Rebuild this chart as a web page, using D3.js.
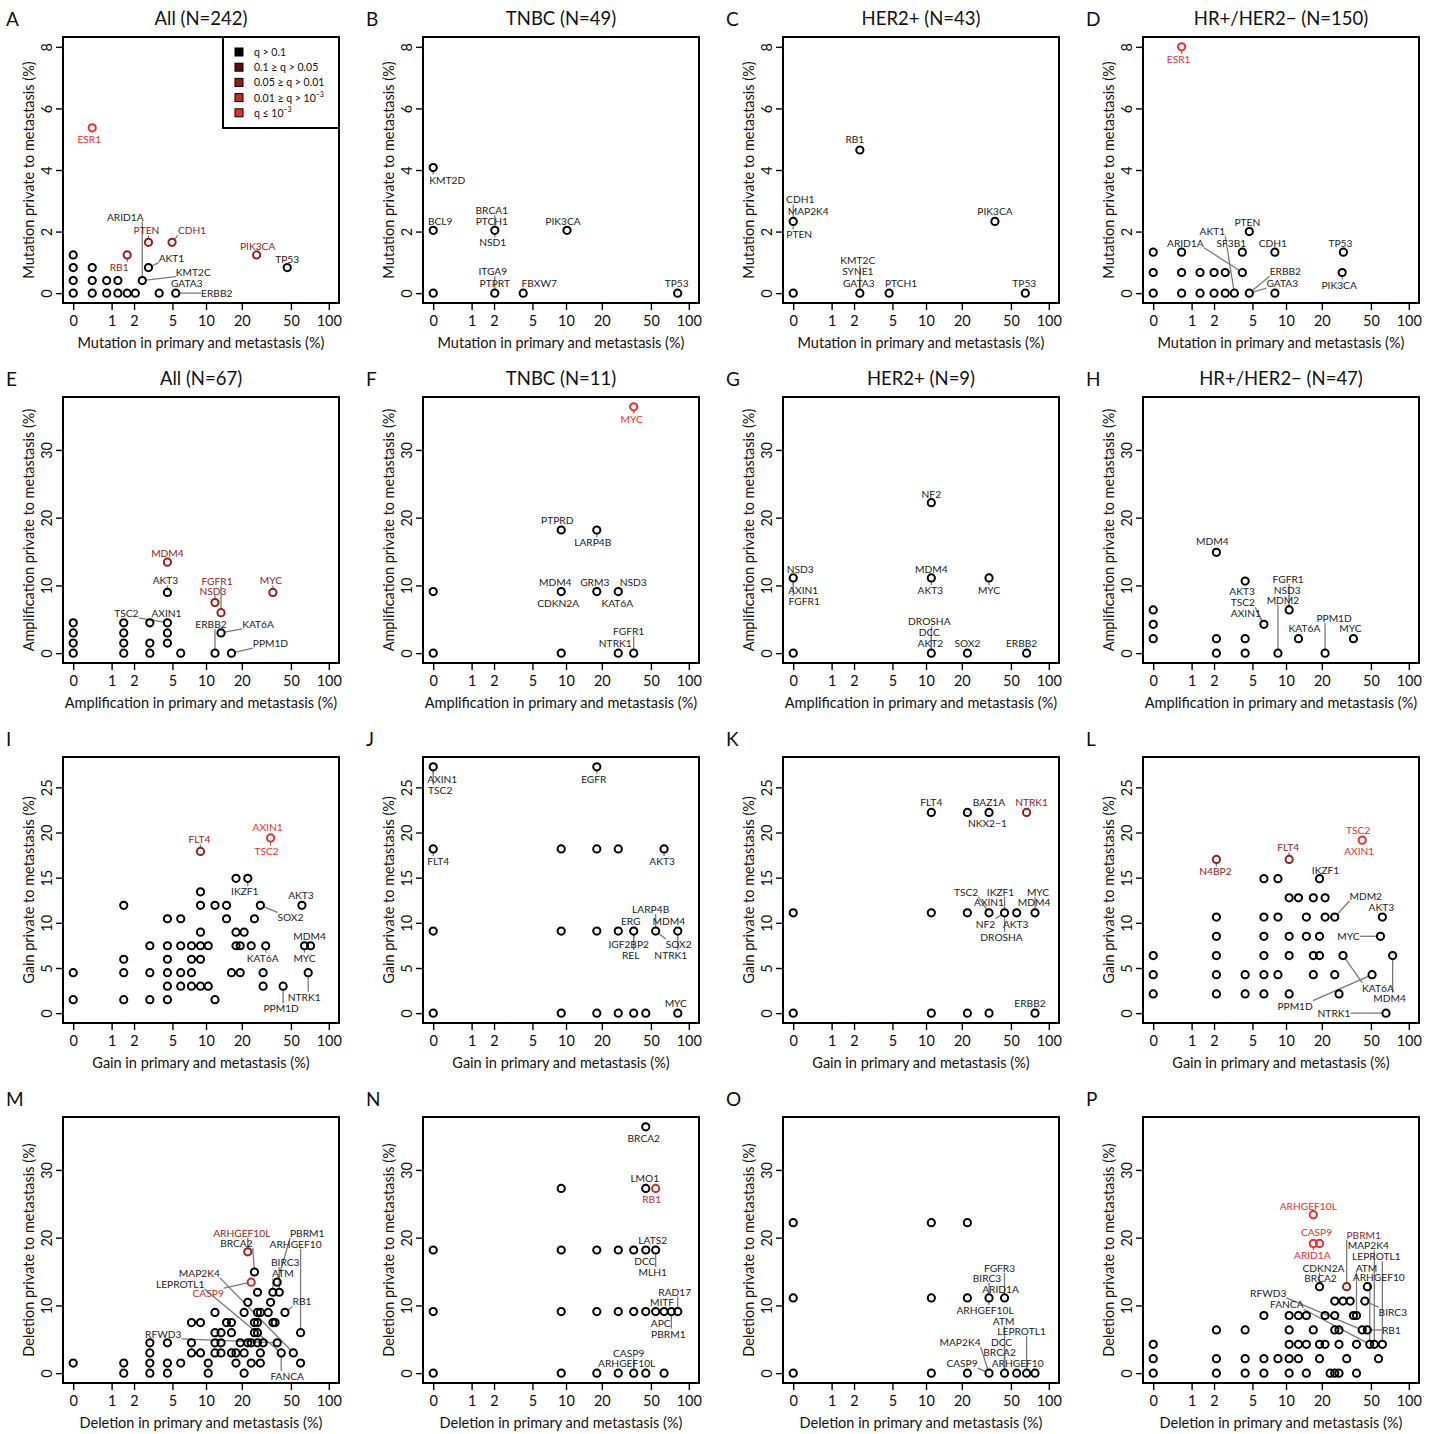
<!DOCTYPE html>
<html>
<head>
<meta charset="utf-8">
<script src="https://cdn.jsdelivr.net/npm/d3@7"></script>
<style>
body { margin: 0; background: #fff; }
svg { font-family: Lato, "Open Sans", sans-serif; }
</style>
</head>
<body>
<svg id="chart"></svg>
<script>
// q-value classes: 0 = q > 0.1 ... 4 = q <= 1e-3
const qColours = ["#000000", "#5a0f0f", "#931e1e", "#c62a2a", "#ef2b2e"];
const qLegend = [["q > 0.1", ""], ["0.1  \u2265 q > 0.05", ""], ["0.05  \u2265 q > 0.01", ""], ["0.01  \u2265 q > 10", "\u22123"], ["q \u2264 10", "\u22123"]];
const rowKinds = ["Mutation", "Amplification", "Gain", "Deletion"];
const xTickValues = [0, 1, 2, 5, 10, 20, 50, 100];
const panelLetters = ["A","B","C","D","E","F","G","H","I","J","K","L","M","N","O","P"];
const panelTitles = ["All (N=242)", "TNBC (N=49)", "HER2+ (N=43)", "HR+/HER2\u2212 (N=150)",
  "All (N=67)", "TNBC (N=11)", "HER2+ (N=9)", "HR+/HER2\u2212 (N=47)",
  "", "", "", "", "", "", "", ""];

// every point is [% in primary and metastasis, % private to metastasis]
const mutAllPts = [[0,0],[0.41,0],[0.83,0],[1.24,0],[1.65,0],[2.07,0],[3.72,0],[5.37,0],[0,0.41],[0.41,0.41],[0.83,0.41],[1.24,0.41],[2.48,0.41],[0,0.83],[0.41,0.83],[2.89,0.83],[46.69,0.83],[0,1.24],[1.65,1.24],[26.45,1.24],[2.89,1.65],[4.96,1.65],[0.41,5.37]];
const mutTnbcPts = [[0,4.08],[0,2.04],[0,0],[2.04,2.04],[10.2,2.04],[2.04,0],[4.08,0],[81.63,0]];
const mutHer2Pts = [[0,2.33],[0,0],[2.33,4.65],[2.33,0],[4.65,0],[37.21,2.33],[65.12,0]];
const mutHrPts = [[0,0],[0.67,0],[1.33,0],[2,0],[2.67,0],[3.33,0],[4.67,0],[8,0],[0,0.67],[0.67,0.67],[1.33,0.67],[2,0.67],[2.67,0.67],[4,0.67],[29.33,0.67],[0,1.33],[0.67,1.33],[4,1.33],[8,1.33],[30,1.33],[4.67,2],[0.67,8]];

const ampAllPts = [[0,0],[1.49,0],[2.99,0],[5.97,0],[11.94,0],[16.42,0],[0,1.49],[1.49,1.49],[2.99,1.49],[4.48,1.49],[0,2.99],[1.49,2.99],[4.48,2.99],[13.43,2.99],[0,4.48],[1.49,4.48],[2.99,4.48],[4.48,4.48],[13.43,5.97],[11.94,7.46],[4.48,8.96],[35.82,8.96],[4.48,13.43]];
const ampTnbcPts = [[0,0],[0,9.09],[9.09,0],[9.09,9.09],[9.09,18.18],[18.18,18.18],[18.18,9.09],[27.27,9.09],[27.27,0],[36.36,0],[36.36,36.36]];
const ampHer2Pts = [[0,0],[0,11.11],[11.11,0],[11.11,11.11],[11.11,22.22],[22.22,0],[33.33,11.11],[66.67,0]];
const ampHrPts = [[0,2.13],[0,4.26],[0,6.38],[2.13,0],[2.13,2.13],[2.13,14.89],[4.26,0],[4.26,2.13],[4.26,10.64],[6.38,4.26],[8.51,0],[10.64,6.38],[12.77,2.13],[21.28,0],[36.17,2.13]];

const gainAllPts = [[0,1.49],[1.49,1.49],[2.99,1.49],[4.48,1.49],[11.94,1.49],
  [4.48,2.99],[5.97,2.99],[7.46,2.99],[8.96,2.99],[10.45,2.99],[29.85,2.99],[43.28,2.99],
  [0,4.48],[1.49,4.48],[2.99,4.48],[4.48,4.48],[5.97,4.48],[7.46,4.48],[16.42,4.48],[19.4,4.48],[29.85,4.48],[68.66,4.48],
  [1.49,5.97],[4.48,5.97],[7.46,5.97],[8.96,5.97],
  [2.99,7.46],[4.48,7.46],[5.97,7.46],[7.46,7.46],[8.96,7.46],[10.45,7.46],[17.91,7.46],[19.4,7.46],[23.88,7.46],[31.34,7.46],[64.18,7.46],[71.64,7.46],
  [8.96,8.96],[17.91,8.96],[20.9,8.96],
  [4.48,10.45],[5.97,10.45],[14.93,10.45],[25.37,10.45],
  [1.49,11.94],[8.96,11.94],[11.94,11.94],[14.93,11.94],[28.36,11.94],[61.19,11.94],
  [8.96,13.43],[17.91,14.93],[22.39,14.93],[8.96,17.91],[34.33,19.4]];
const gainTnbcPts = [[0,0],[9.09,0],[18.18,0],[27.27,0],[36.36,0],[45.45,0],[81.82,0],
  [0,9.09],[9.09,9.09],[18.18,9.09],[27.27,9.09],[36.36,9.09],[54.55,9.09],[81.82,9.09],
  [0,18.18],[9.09,18.18],[18.18,18.18],[27.27,18.18],[63.64,18.18],[0,27.27],[18.18,27.27]];
const gainHer2Pts = [[0,0],[11.11,0],[22.22,0],[33.33,0],[77.78,0],
  [0,11.11],[11.11,11.11],[22.22,11.11],[33.33,11.11],[44.44,11.11],[55.56,11.11],[77.78,11.11],
  [11.11,22.22],[22.22,22.22],[33.33,22.22],[66.67,22.22]];
const gainHrPts = [[65.96,0],
  [0,2.13],[2.13,2.13],[4.26,2.13],[6.38,2.13],[10.64,2.13],[27.66,2.13],
  [0,4.26],[2.13,4.26],[4.26,4.26],[6.38,4.26],[8.51,4.26],[17.02,4.26],[25.53,4.26],[51.06,4.26],
  [0,6.38],[2.13,6.38],[6.38,6.38],[10.64,6.38],[17.02,6.38],[19.15,6.38],[29.79,6.38],[74.47,6.38],
  [2.13,8.51],[6.38,8.51],[10.64,8.51],[14.89,8.51],[19.15,8.51],[59.57,8.51],
  [2.13,10.64],[6.38,10.64],[8.51,10.64],[14.89,10.64],[21.28,10.64],[25.53,10.64],[61.7,10.64],
  [10.64,12.77],[12.77,12.77],[17.02,12.77],[21.28,12.77],
  [6.38,14.89],[8.51,14.89],[19.15,14.89],[2.13,17.02],[10.64,17.02],[42.55,19.15]];

const delAllPts = [[1.49,0],[2.99,0],[4.48,0],[10.45,0],[20.9,0],
  [0,1.49],[1.49,1.49],[2.99,1.49],[4.48,1.49],[5.97,1.49],[10.45,1.49],[17.91,1.49],[23.88,1.49],[28.36,1.49],[59.7,1.49],
  [2.99,2.99],[7.46,2.99],[8.96,2.99],[11.94,2.99],[13.43,2.99],[16.42,2.99],[17.91,2.99],[20.9,2.99],[28.36,2.99],[41.79,2.99],[52.24,2.99],
  [2.99,4.48],[4.48,4.48],[7.46,4.48],[11.94,4.48],[13.43,4.48],[19.4,4.48],[22.39,4.48],[23.88,4.48],[26.87,4.48],[29.85,4.48],[38.81,4.48],
  [11.94,5.97],[13.43,5.97],[16.42,5.97],[25.37,5.97],[26.87,5.97],[59.7,5.97],
  [7.46,7.46],[8.96,7.46],[14.93,7.46],[16.42,7.46],[25.37,7.46],[26.87,7.46],[35.82,7.46],[37.31,7.46],
  [11.94,8.96],[20.9,8.96],[26.87,8.96],[28.36,8.96],[32.84,8.96],[44.78,8.96],
  [22.39,10.45],[34.33,10.45],[26.87,11.94],[35.82,11.94],[40.3,11.94],
  [23.88,13.43],[38.81,13.43],[25.37,14.93],[22.39,17.91]];
const delTnbcPts = [[0,0],[9.09,0],[18.18,0],[27.27,0],[36.36,0],[45.45,0],[63.64,0],
  [0,9.09],[9.09,9.09],[18.18,9.09],[27.27,9.09],[36.36,9.09],[45.45,9.09],[54.55,9.09],[63.64,9.09],[72.73,9.09],[81.82,9.09],
  [0,18.18],[9.09,18.18],[18.18,18.18],[27.27,18.18],[36.36,18.18],[45.45,18.18],[54.55,18.18],
  [9.09,27.27],[45.45,27.27],[54.55,27.27],[45.45,36.36]];
const delHer2Pts = [[0,0],[11.11,0],[22.22,0],[33.33,0],[44.44,0],[55.56,0],[66.67,0],[77.78,0],
  [0,11.11],[11.11,11.11],[22.22,11.11],[33.33,11.11],[44.44,11.11],[0,22.22],[11.11,22.22],[22.22,22.22]];
const delHrPts = [[0,0],[2.13,0],[4.26,0],[6.38,0],[10.64,0],[14.89,0],[23.4,0],[25.53,0],[27.66,0],[38.3,0],
  [0,2.13],[2.13,2.13],[4.26,2.13],[6.38,2.13],[8.51,2.13],[10.64,2.13],[12.77,2.13],[19.15,2.13],[31.91,2.13],[57.45,2.13],
  [0,4.26],[10.64,4.26],[12.77,4.26],[14.89,4.26],[19.15,4.26],[21.28,4.26],[27.66,4.26],[38.3,4.26],[48.94,4.26],[53.19,4.26],[61.7,4.26],
  [2.13,6.38],[4.26,6.38],[10.64,6.38],[17.02,6.38],[25.53,6.38],[27.66,6.38],[42.55,6.38],[46.81,6.38],
  [6.38,8.51],[10.64,8.51],[12.77,8.51],[14.89,8.51],[21.28,8.51],[25.53,8.51],[36.17,8.51],[38.3,8.51],
  [25.53,10.64],[29.79,10.64],[34.04,10.64],[44.68,10.64],
  [19.15,12.77],[31.91,12.77],[46.81,12.77],[17.02,19.15],[19.15,19.15],[17.02,23.4]];

// labelled genes: [gene, x, y, q class]
const mutAllGenes = [["ESR1",0.41,5.37,4],["ARID1A",2.48,0.41,0],["PTEN",2.89,1.65,2],["CDH1",4.96,1.65,2],["RB1",1.65,1.24,2],["AKT1",2.89,0.83,0],["KMT2C",2.48,0.41,0],["GATA3",5.37,0,0],["ERBB2",5.37,0,0],["PIK3CA",26.45,1.24,2],["TP53",46.69,0.83,0]];
const mutTnbcGenes = [["KMT2D",0,4.08,0],["BCL9",0,2.04,0],["BRCA1",2.04,2.04,0],["PTCH1",2.04,2.04,0],["NSD1",2.04,2.04,0],["PIK3CA",10.2,2.04,0],["ITGA9",2.04,0,0],["PTPRT",2.04,0,0],["FBXW7",4.08,0,0],["TP53",81.63,0,0]];
const mutHer2Genes = [["CDH1",0,2.33,0],["MAP2K4",0,2.33,0],["PTEN",0,2.33,0],["RB1",2.33,4.65,0],["KMT2C",2.33,0,0],["SYNE1",2.33,0,0],["GATA3",2.33,0,0],["PTCH1",4.65,0,0],["PIK3CA",37.21,2.33,0],["TP53",65.12,0,0]];
const mutHrGenes = [["ESR1",0.67,8,4],["PTEN",4.67,2,0],["AKT1",3.33,0,0],["ARID1A",4,0.67,0],["SF3B1",4,1.33,0],["CDH1",8,1.33,0],["TP53",30,1.33,0],["ERBB2",4.67,0,0],["GATA3",4.67,0,0],["PIK3CA",29.33,0.67,0]];
const ampAllGenes = [["MDM4",4.48,13.43,2],["AKT3",4.48,8.96,0],["FGFR1",13.43,5.97,2],["NSD3",11.94,7.46,2],["MYC",35.82,8.96,2],["TSC2",4.48,4.48,0],["AXIN1",4.48,4.48,0],["ERBB2",11.94,0,0],["KAT6A",13.43,2.99,0],["PPM1D",16.42,0,0]];
const ampTnbcGenes = [["MYC",36.36,36.36,4],["PTPRD",9.09,18.18,0],["LARP4B",18.18,18.18,0],["MDM4",9.09,9.09,0],["CDKN2A",9.09,9.09,0],["GRM3",18.18,9.09,0],["NSD3",27.27,9.09,0],["KAT6A",27.27,9.09,0],["NTRK1",27.27,0,0],["FGFR1",36.36,0,0]];
const ampHer2Genes = [["NF2",11.11,22.22,0],["NSD3",0,11.11,0],["AXIN1",0,11.11,0],["FGFR1",0,11.11,0],["MDM4",11.11,11.11,0],["AKT3",11.11,11.11,0],["MYC",33.33,11.11,0],["DROSHA",11.11,0,0],["DCC",11.11,0,0],["AKT2",11.11,0,0],["SOX2",22.22,0,0],["ERBB2",66.67,0,0]];
const ampHrGenes = [["MDM4",2.13,14.89,0],["AKT3",4.26,10.64,0],["TSC2",6.38,4.26,0],["AXIN1",6.38,4.26,0],["FGFR1",10.64,6.38,0],["NSD3",10.64,6.38,0],["MDM2",8.51,0,0],["KAT6A",12.77,2.13,0],["PPM1D",21.28,0,0],["MYC",36.17,2.13,0]];
const gainAllGenes = [["FLT4",8.96,17.91,2],["AXIN1",34.33,19.4,4],["TSC2",34.33,19.4,4],["IKZF1",22.39,14.93,0],["AKT3",61.19,11.94,0],["SOX2",28.36,11.94,0],["MDM4",71.64,7.46,0],["MYC",64.18,7.46,0],["KAT6A",31.34,7.46,0],["NTRK1",68.66,4.48,0],["PPM1D",43.28,2.99,0]];
const gainTnbcGenes = [["AXIN1",0,27.27,0],["TSC2",0,27.27,0],["EGFR",18.18,27.27,0],["FLT4",0,18.18,0],["AKT3",63.64,18.18,0],["LARP4B",54.55,9.09,0],["ERG",36.36,9.09,0],["MDM4",81.82,9.09,0],["IGF2BP2",36.36,9.09,0],["REL",36.36,9.09,0],["SOX2",54.55,9.09,0],["NTRK1",81.82,9.09,0],["MYC",81.82,0,0]];
const gainHer2Genes = [["FLT4",11.11,22.22,0],["BAZ1A",33.33,22.22,0],["NKX2\u22121",22.22,22.22,0],["NTRK1",66.67,22.22,2],["TSC2",33.33,11.11,0],["IKZF1",44.44,11.11,0],["AXIN1",33.33,11.11,0],["MYC",77.78,11.11,0],["MDM4",77.78,11.11,0],["NF2",44.44,11.11,0],["AKT3",55.56,11.11,0],["DROSHA",44.44,11.11,0],["ERBB2",77.78,0,0]];
const gainHrGenes = [["N4BP2",2.13,17.02,2],["FLT4",10.64,17.02,2],["TSC2",42.55,19.15,4],["AXIN1",42.55,19.15,4],["IKZF1",19.15,14.89,0],["MDM2",25.53,10.64,0],["AKT3",61.7,10.64,0],["MYC",59.57,8.51,0],["KAT6A",29.79,6.38,0],["MDM4",74.47,6.38,0],["PPM1D",51.06,4.26,0],["NTRK1",65.96,0,0]];
const delAllGenes = [["ARHGEF10L",22.39,17.91,2],["BRCA2",25.37,14.93,0],["PBRM1",38.81,13.43,0],["ARHGEF10",59.7,5.97,0],["BIRC3",40.3,11.94,0],["ATM",35.82,11.94,0],["MAP2K4",52.24,2.99,0],["LEPROTL1",41.79,2.99,0],["CASP9",23.88,13.43,3],["RB1",44.78,8.96,0],["RFWD3",38.81,4.48,0],["FANCA",41.79,2.99,0]];
const delTnbcGenes = [["BRCA2",45.45,36.36,0],["LMO1",45.45,27.27,0],["RB1",54.55,27.27,3],["LATS2",54.55,18.18,0],["DCC",45.45,18.18,0],["MLH1",54.55,18.18,0],["RAD17",81.82,9.09,0],["MITF",63.64,9.09,0],["APC",54.55,9.09,0],["PBRM1",72.73,9.09,0],["CASP9",36.36,0,0],["ARHGEF10L",36.36,0,0]];
const delHer2Genes = [["FGFR3",44.44,11.11,0],["BIRC3",33.33,11.11,0],["ARID1A",44.44,11.11,0],["ARHGEF10L",33.33,11.11,0],["ATM",44.44,0,0],["LEPROTL1",66.67,0,0],["MAP2K4",33.33,0,0],["DCC",44.44,0,0],["BRCA2",44.44,0,0],["CASP9",33.33,0,0],["ARHGEF10",55.56,0,0]];
const delHrGenes = [["ARHGEF10L",17.02,23.4,4],["CASP9",19.15,19.15,4],["ARID1A",17.02,19.15,4],["PBRM1",31.91,12.77,2],["MAP2K4",53.19,4.26,0],["LEPROTL1",61.7,4.26,0],["ATM",38.3,8.51,0],["ARHGEF10",48.94,4.26,0],["CDKN2A",19.15,12.77,0],["BRCA2",19.15,12.77,0],["RFWD3",42.55,6.38,0],["FANCA",48.94,4.26,0],["BIRC3",44.68,10.64,0],["RB1",46.81,6.38,0]];

// label placement (pixel offset from the point), same order as the gene lists
const labelNudges = {
  A: [[-3,11],[-17,-64],[-2,-12],[20,-12],[-8,12],[23,-10],[51,-9],[11,-10],[41,0],[1,-9],[0,-9]],
  B: [[14,12],[7,-9],[-3,-20],[-3,-9],[-2,12],[-4,-9],[-2,-22],[0,-10],[16,-10],[-1,-10]],
  C: [[7,-22],[15,-10],[6,13],[-5,-11],[-2,-33],[-2,-22],[-1,-10],[12,-10],[0,-10],[-1,-10]],
  D: [[-3,12],[-2,-10],[-22,-62],[-57,-30],[-11,-9],[-2,-9],[-3,-9],[36,-22],[33,-10],[-3,12]],
  E: [[0,-9],[-2,-12],[-4,-32],[-2,-12],[-2,-12],[-41,-10],[-1,-10],[-4,-29],[37,-9],[39,-10]],
  F: [[-2,12],[-4,-10],[-4,12],[-6,-10],[-3,11],[-2,-10],[15,-10],[-1,11],[-3,-10],[-5,-22]],
  G: [[0,-9],[7,-9],[10,12],[11,23],[0,-9],[-1,12],[0,12],[-2,-32],[-2,-21],[-1,-10],[0,-10],[-5,-10]],
  H: [[-4,-11],[-3,10],[-21,-22],[-18,-11],[-1,-31],[-2,-20],[5,-53],[6,-11],[9,-35],[-3,-11]],
  I: [[-1,-12],[-3,-11],[-4,13],[-3,13],[-1,-10],[30,12],[-1,-10],[0,12],[-3,12],[-4,24],[-2,22]],
  J: [[9,12],[7,23],[-3,12],[5,12],[-2,12],[-5,-22],[-3,-10],[-9,-10],[-5,13],[-3,24],[23,13],[-7,24],[-2,-10]],
  K: [[0,-10],[0,-10],[20,11],[5,-10],[-23,-21],[-4,-21],[0,-11],[3,-21],[-1,-11],[-19,11],[-1,11],[-3,24],[-5,-10]],
  L: [[-1,12],[-1,-12],[-4,-10],[-3,11],[6,-9],[31,-21],[-1,-10],[-32,0],[35,32],[-3,42],[-77,31],[-52,0]],
  M: [[-6,-19],[-18,-29],[30,-49],[-5,-89],[6,-30],[10,-19],[-94,-80],[-101,-69],[-43,11],[17,-11],[-114,-9],[6,23]],
  N: [[-2,11],[-1,-10],[-4,11],[-3,-10],[-1,11],[-3,22],[-3,-20],[-2,-10],[5,11],[-3,22],[-5,-20],[-7,-10]],
  O: [[-5,-30],[-2,-20],[-4,-9],[-4,12],[-1,-52],[-5,-42],[-29,-31],[-3,-31],[-5,-21],[-27,-10],[1,-10]],
  P: [[-5,-9],[-3,-11],[-1,12],[17,-52],[-6,-99],[-6,-88],[10,-48],[9,-67],[4,-19],[1,-9],[-94,-37],[-83,-40],[28,11],[24,0]]
};

const panelPts = [mutAllPts, mutTnbcPts, mutHer2Pts, mutHrPts, ampAllPts, ampTnbcPts, ampHer2Pts, ampHrPts,
  gainAllPts, gainTnbcPts, gainHer2Pts, gainHrPts, delAllPts, delTnbcPts, delHer2Pts, delHrPts];
const panelGenes = [mutAllGenes, mutTnbcGenes, mutHer2Genes, mutHrGenes, ampAllGenes, ampTnbcGenes, ampHer2Genes, ampHrGenes,
  gainAllGenes, gainTnbcGenes, gainHer2Genes, gainHrGenes, delAllGenes, delTnbcGenes, delHer2Genes, delHrGenes];

const W = 1437, H = 1434;
const box = {left: 63, top: 37, w: 276, h: 266};
const r = 3.6;

const svg = d3.select('#chart').attr('width', W).attr('height', H);
svg.append('rect').attr('width', W).attr('height', H).attr('fill', '#fff');

// x is log(1+x), which is symlog with constant 1; R pads the range 4% each side
const hi = Math.log1p(100), pad = 0.04 * hi;

panelPts.forEach((pts, i) => {
    let row = Math.floor(i / 4), col = i % 4;
    let letter = panelLetters[i];
    let genes = panelGenes[i];
    let nudges = labelNudges[letter];
    let g = svg.append('g').attr('transform', `translate(${col * 360},${row * 360})`);

    let yMax = d3.max(panelPts.slice(row * 4, row * 4 + 4), p => d3.max(p, d => d[1]));
    let y = d3.scaleLinear()
        .domain([-0.04 * yMax, 1.04 * yMax])
        .range([box.top + box.h, box.top]);
    let x = d3.scaleSymlog().constant(1)
        .domain([-Math.expm1(pad), Math.expm1(hi + pad)])
        .range([box.left, box.left + box.w]);

    // axes
    let xAxis = g.append('g')
        .attr('transform', `translate(0,${box.top + box.h})`)
        .call(d3.axisBottom(x).tickValues(xTickValues).tickFormat(d3.format('d')).tickSize(7).tickPadding(6));
    let yAxis = g.append('g')
        .attr('transform', `translate(${box.left},0)`)
        .call(d3.axisLeft(y).ticks(5).tickSize(7));
    yAxis.selectAll('.tick').filter(d => d < 0).remove();
    [xAxis, yAxis].forEach(a => {
        a.select('.domain').remove();
        a.selectAll('line').attr('stroke', '#000').attr('stroke-width', 1.4);
        a.selectAll('text').attr('font-family', 'Lato, sans-serif').attr('font-size', 14.5).attr('fill', '#111');
    });
    yAxis.selectAll('text')
        .attr('x', 0).attr('y', -11).attr('dy', 0)
        .attr('transform', 'rotate(-90)')
        .attr('text-anchor', 'middle');

    g.append('text')
        .attr('transform', `translate(28,${box.top + box.h / 2}) rotate(-90)`)
        .attr('text-anchor', 'middle').attr('dominant-baseline', 'central')
        .attr('font-size', 14.5).attr('fill', '#111')
        .text(rowKinds[row] + ' private to metastasis (%)');
    g.append('text')
        .attr('x', box.left + box.w / 2).attr('y', box.top + box.h + 39)
        .attr('text-anchor', 'middle').attr('dominant-baseline', 'central')
        .attr('font-size', 14.5).attr('fill', '#111')
        .text(rowKinds[row] + ' in primary and metastasis (%)');

    g.append('text').attr('x', 6).attr('y', 18)
        .attr('dominant-baseline', 'central').attr('font-size', 19).attr('fill', '#111')
        .text(letter);
    g.append('text').attr('x', box.left + box.w / 2).attr('y', 18)
        .attr('text-anchor', 'middle').attr('dominant-baseline', 'central')
        .attr('font-size', 18.5).attr('fill', '#111')
        .text(panelTitles[i]);

    // colour of a point = strongest q class among its genes
    function pointClass(d) {
        let m = 0;
        genes.forEach(gn => { if (gn[1] === d[0] && gn[2] === d[1]) m = Math.max(m, gn[3]); });
        return m;
    }

    let lineLayer = g.append('g');
    let pointLayer = g.append('g');
    let textLayer = g.append('g');

    pointLayer.selectAll('circle')
        .data(pts)
        .enter()
        .append('circle')
        .attr('cx', d => x(d[0]))
        .attr('cy', d => y(d[1]))
        .attr('r', r)
        .attr('fill', 'none')
        .attr('stroke', d => qColours[pointClass(d)])
        .attr('stroke-width', 2);

    genes.forEach((gn, j) => {
        let px = x(gn[1]), py = y(gn[2]);
        let nd = nudges[j];
        let t = textLayer.append('text')
            .attr('x', px + nd[0]).attr('y', py + nd[1])
            .attr('text-anchor', 'middle').attr('dominant-baseline', 'central')
            .attr('font-size', 10.2)
            .attr('fill', gn[3] === 0 ? '#1c1c1c' : qColours[gn[3]])
            .text(gn[0]);
        let b = t.node().getBBox();
        let ex = Math.max(b.x, Math.min(px, b.x + b.width));
        let ey = Math.max(b.y + 1, Math.min(py, b.y + b.height - 1));
        let dist = Math.hypot(ex - px, ey - py);
        if (dist > r + 3) {
            let ux = (ex - px) / dist, uy = (ey - py) / dist;
            lineLayer.append('line')
                .attr('x1', px + ux * r).attr('y1', py + uy * r)
                .attr('x2', ex).attr('y2', ey)
                .attr('stroke', '#7a7a7a').attr('stroke-width', 1.3);
        }
    });

    // legend only in the first panel
    if (i === 0) {
        let lg = g.append('g').attr('transform', `translate(${box.left + box.w - 116},${box.top})`);
        lg.append('rect').attr('width', 116).attr('height', 91)
            .attr('fill', '#fff').attr('stroke', '#000').attr('stroke-width', 2);
        qLegend.forEach((lab, k) => {
            let cy = 15 + k * 15.2;
            lg.append('rect').attr('x', 12).attr('y', cy - 4).attr('width', 8).attr('height', 8)
                .attr('fill', qColours[k]).attr('stroke', '#000').attr('stroke-width', 1);
            let tx = lg.append('text').attr('x', 31).attr('y', cy)
                .attr('dominant-baseline', 'central').attr('font-size', 10.5).attr('fill', '#111');
            tx.append('tspan').text(lab[0]);
            if (lab[1]) tx.append('tspan').attr('dy', -4).attr('font-size', 7).text(lab[1]);
        });
    }

    // frame on top
    g.append('rect')
        .attr('x', box.left).attr('y', box.top)
        .attr('width', box.w).attr('height', box.h)
        .attr('fill', 'none').attr('stroke', '#000').attr('stroke-width', 2);
});
</script>
</body>
</html>
